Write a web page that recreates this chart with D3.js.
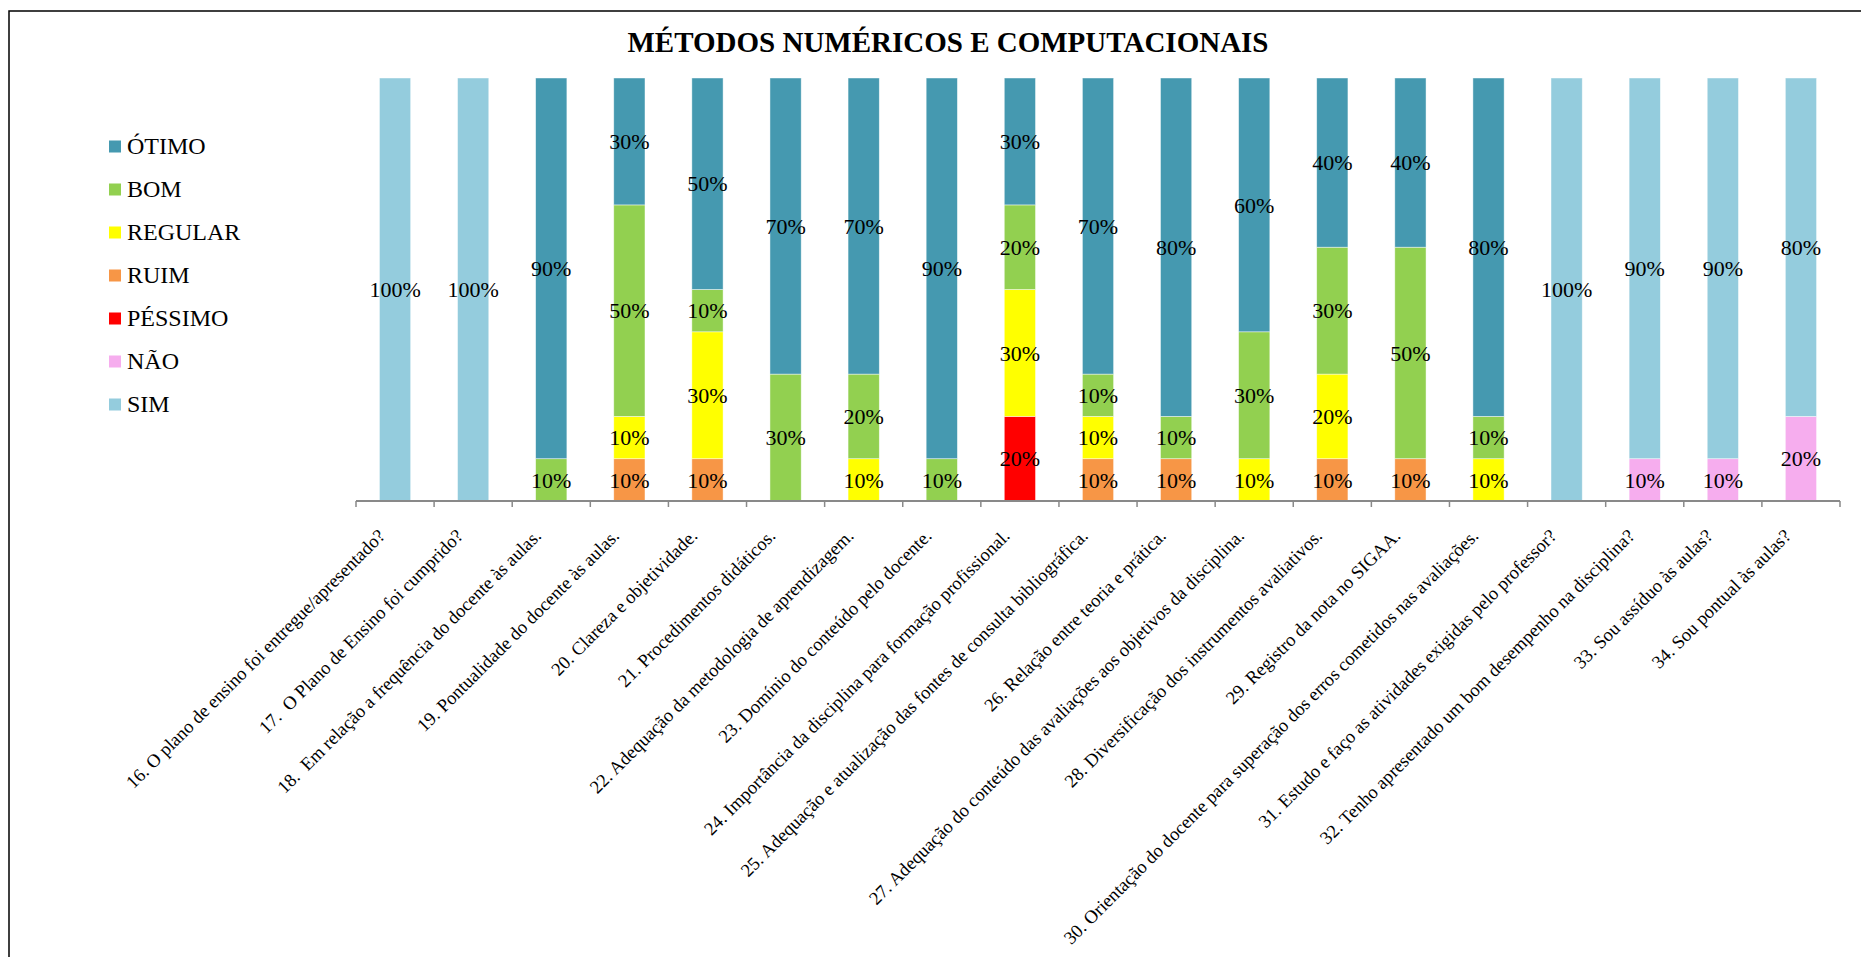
<!DOCTYPE html>
<html>
<head>
<meta charset="utf-8">
<script src="https://cdn.jsdelivr.net/npm/d3@7"></script>
<style>
  html, body { margin: 0; padding: 0; background: #fff; }
  svg { display: block; }
  text { font-family: "Liberation Serif", "Times New Roman", serif; fill: #000; }
</style>
</head>
<body>
<svg id="chart" width="1861" height="957"></svg>
<script>
const title = "MÉTODOS NUMÉRICOS E COMPUTACIONAIS";

const categories = [
  "16. O plano de ensino foi entregue/apresentado?",
  "17.  O Plano de Ensino foi cumprido?",
  "18.  Em relação a frequência do docente às aulas.",
  "19. Pontualidade do docente às aulas.",
  "20. Clareza e objetividade.",
  "21. Procedimentos didáticos.",
  "22. Adequação da metodologia de aprendizagem.",
  "23. Domínio do conteúdo pelo docente.",
  "24. Importância da disciplina para formação profissional.",
  "25. Adequação e atualização das fontes de consulta bibliográfica.",
  "26. Relação entre teoria e prática.",
  "27. Adequação do conteúdo das avaliações aos objetivos da disciplina.",
  "28. Diversificação dos instrumentos avaliativos.",
  "29. Registro da nota no SIGAA.",
  "30. Orientação do docente para superação dos erros cometidos nas avaliações.",
  "31. Estudo e faço as atividades exigidas pelo professor?",
  "32. Tenho apresentado um bom desempenho na disciplina?",
  "33. Sou assíduo às aulas?",
  "34. Sou pontual às aulas?"
];

// legend order (top to bottom)
const legendOrder = ["ÓTIMO", "BOM", "REGULAR", "RUIM", "PÉSSIMO", "NÃO", "SIM"];
// stacking order (bottom to top)
const stackOrder = ["NÃO", "SIM", "PÉSSIMO", "RUIM", "REGULAR", "BOM", "ÓTIMO"];

const otimo   = [0, 0, 0.9, 0.3, 0.5, 0.7, 0.7, 0.9, 0.3, 0.7, 0.8, 0.6, 0.4, 0.4, 0.8, 0, 0, 0, 0];
const bom     = [0, 0, 0.1, 0.5, 0.1, 0.3, 0.2, 0.1, 0.2, 0.1, 0.1, 0.3, 0.3, 0.5, 0.1, 0, 0, 0, 0];
const regular = [0, 0, 0,   0.1, 0.3, 0,   0.1, 0,   0.3, 0.1, 0,   0.1, 0.2, 0,   0.1, 0, 0, 0, 0];
const ruim    = [0, 0, 0,   0.1, 0.1, 0,   0,   0,   0,   0.1, 0.1, 0,   0.1, 0.1, 0,   0, 0, 0, 0];
const pessimo = [0, 0, 0,   0,   0,   0,   0,   0,   0.2, 0,   0,   0,   0,   0,   0,   0, 0, 0, 0];
const nao     = [0, 0, 0,   0,   0,   0,   0,   0,   0,   0,   0,   0,   0,   0,   0,   0, 0.1, 0.1, 0.2];
const sim     = [1, 1, 0,   0,   0,   0,   0,   0,   0,   0,   0,   0,   0,   0,   0,   1, 0.9, 0.9, 0.8];

const seriesValues = {
  "ÓTIMO": otimo, "BOM": bom, "REGULAR": regular, "RUIM": ruim,
  "PÉSSIMO": pessimo, "NÃO": nao, "SIM": sim
};
const colors = {
  "ÓTIMO": "#4599B0", "BOM": "#92D050", "REGULAR": "#FFFF00", "RUIM": "#F79646",
  "PÉSSIMO": "#FF0000", "NÃO": "#F6ADEE", "SIM": "#94CCDD"
};

const table = categories.map((c, i) => {
  const row = { cat: c };
  stackOrder.forEach(s => row[s] = seriesValues[s][i]);
  return row;
});

const svg = d3.select("#chart");

// chart frame
svg.append("rect")
  .attr("x", 9).attr("y", 11).attr("width", 1900).attr("height", 1000)
  .attr("fill", "none").attr("stroke", "#000").attr("stroke-width", 1.5);

// title
svg.append("text")
  .attr("x", 948).attr("y", 51.5)
  .attr("text-anchor", "middle")
  .style("font-size", "29px").style("font-weight", "bold")
  .text(title);

const x = d3.scaleBand().domain(categories).range([356, 1840]).paddingInner(0.6).paddingOuter(0.3);
const y = d3.scaleLinear().domain([0, 1]).range([501, 78]);

const stack = d3.stack().keys(stackOrder);
const layers = stack(table);

const g = svg.append("g");
layers.forEach(layer => {
  const key = layer.key;
  layer.forEach((d, i) => {
    const v = d[1] - d[0];
    if (v <= 0) return;
    const cat = categories[i];
    g.append("rect")
      .attr("x", x(cat)).attr("width", x.bandwidth())
      .attr("y", y(d[1])).attr("height", y(d[0]) - y(d[1]))
      .attr("fill", colors[key])
      .attr("stroke", "#fff").attr("stroke-opacity", 0.6).attr("stroke-width", 0.75);
  });
});

// data labels
layers.forEach(layer => {
  layer.forEach((d, i) => {
    const v = d[1] - d[0];
    if (v <= 0) return;
    const cat = categories[i];
    svg.append("text")
      .attr("x", x(cat) + x.bandwidth() / 2)
      .attr("y", (y(d[0]) + y(d[1])) / 2)
      .attr("dy", "0.35em")
      .attr("text-anchor", "middle")
      .style("font-size", "22px")
      .text(d3.format(".0%")(v));
  });
});

// x axis
const xBoundary = d3.scaleLinear().domain([0, categories.length]).range([356, 1840]);
const axisG = svg.append("g");
axisG.append("line")
  .attr("x1", xBoundary(0)).attr("x2", xBoundary(categories.length))
  .attr("y1", 501).attr("y2", 501)
  .attr("stroke", "#898989").attr("stroke-width", 2);
d3.range(categories.length + 1).forEach(k => {
  axisG.append("line")
    .attr("x1", xBoundary(k)).attr("x2", xBoundary(k))
    .attr("y1", 501).attr("y2", 507)
    .attr("stroke", "#898989").attr("stroke-width", 1.5);
});

categories.forEach(c => {
  const cx = x(c) + x.bandwidth() / 2;
  svg.append("text")
    .attr("transform", `translate(${cx - 9},537) rotate(-45)`)
    .attr("text-anchor", "end")
    .style("font-size", "18.5px")
    .style("white-space", "pre")
    .attr("xml:space", "preserve")
    .text(c);
});

// legend
const lg = svg.append("g");
legendOrder.forEach((s, i) => {
  const cy = 146.5 + i * 43;
  lg.append("rect")
    .attr("x", 109).attr("y", cy - 6).attr("width", 12).attr("height", 12)
    .attr("fill", colors[s]);
  lg.append("text")
    .attr("x", 127).attr("y", cy + 7.5)
    .style("font-size", "24px")
    .text(s);
});
</script>
</body>
</html>
